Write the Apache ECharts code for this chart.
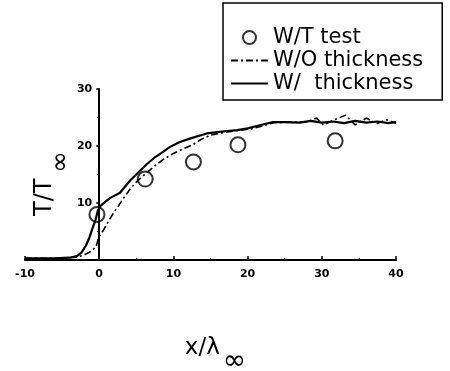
<!DOCTYPE html>
<html>
<head>
<meta charset="utf-8">
<script src="https://cdn.jsdelivr.net/npm/echarts@6/dist/echarts.min.js"></script>
<style>
html,body{margin:0;padding:0;background:#fff;}
#chart{width:450px;height:371px;}
</style>
</head>
<body>
<div id="chart"></div>
<script>
// x tick range
const xTicks = [-10, 0, 10, 20, 30, 40];
const yTicks = [0, 10, 20, 30];

// W/T test (wind tunnel) points: [x/λ∞, T/T∞]
const testData = [[-0.3, 8.0], [6.2, 14.2], [12.7, 17.2], [18.7, 20.2], [31.8, 20.9]];

// W/O thickness (dash-dot)
const noThickness = [
  [-10, 0.3], [-5, 0.3], [-3, 0.5], [-2, 0.9], [-1, 1.6], [-0.4, 2.4], [-0.1, 3.9],
  [0.6, 5.3], [1.2, 6.7], [1.9, 8.2], [2.6, 9.5], [3.2, 10.7], [4.2, 12.5], [5.1, 13.8],
  [6.4, 15.3], [7.5, 16.5], [8.6, 17.6], [10, 18.7], [11.5, 19.6], [12.7, 20.3],
  [13.8, 21.2], [15, 21.9], [16.5, 22.3], [18.5, 22.7], [20.5, 23.0], [22, 23.5],
  [23.5, 24.1], [26, 24.2], [28, 24.2], [29.3, 24.9], [30.2, 23.7], [31.5, 24.5],
  [33.2, 25.4], [34.5, 23.7], [36, 24.9], [37.4, 23.9], [38.7, 24.6], [40, 24.0]
];

// W/ thickness (solid)
const withThickness = [
  [-10, 0.3], [-6, 0.3], [-4, 0.4], [-3, 0.7], [-2.4, 1.3], [-1.8, 2.5], [-1.3, 4],
  [-0.9, 5.6], [-0.5, 7], [-0.2, 8.6], [0.1, 9.4], [0.8, 10.2], [1.5, 10.9], [2.8, 11.8],
  [4.2, 14.0], [5.3, 15.4], [6.4, 16.8], [7.4, 17.9], [8.4, 18.8], [9.5, 19.8],
  [10.7, 20.6], [12.2, 21.3], [14.5, 22.2], [16.3, 22.5], [18.6, 22.8], [20, 23.1],
  [21.5, 23.6], [23.4, 24.2], [25, 24.2], [27, 24.1], [28.5, 24.4], [30, 24.1],
  [31.5, 24.3], [33, 24.0], [34.5, 24.4], [36, 24.1], [37.5, 24.3], [39, 24.0], [40, 24.2]
];

const seriesNames = ['W/T test', 'W/O thickness', 'W/  thickness'];

const GRID = {left: 25, right: 54, top: 89, bottom: 111};
const W = 450;
const xMin = xTicks[0], xMax = xTicks[xTicks.length - 1];
// y axis sits at x = 0: shift it inward from the grid's left edge
const yAxisOffset = -((0 - xMin) / (xMax - xMin)) * (W - GRID.left - GRID.right);

const chart = echarts.init(document.getElementById('chart'), null, {renderer: 'canvas'});
const FONT = 'DejaVu Sans';
chart.setOption({
  animation: false,
  backgroundColor: '#fff',
  grid: Object.assign({containLabel: false, outerBoundsMode: 'none'}, GRID),
  legend: {
    orient: 'vertical',
    left: 223, top: 3,
    padding: [23, 19, 5, 7],
    itemGap: 0,
    itemWidth: 37, itemHeight: 13,
    borderColor: '#000', borderWidth: 1.5,
    textStyle: {fontFamily: FONT, fontSize: 21, color: '#000', lineHeight: 23},
    data: [
      {name: seriesNames[0]},
      {name: seriesNames[1], itemStyle: {opacity: 0}},
      {name: seriesNames[2], itemStyle: {opacity: 0}}
    ]
  },
  xAxis: {
    type: 'value', min: xMin, max: xMax, interval: 10,
    name: '{a|x/λ}{s|∞}', nameLocation: 'middle', nameGap: 77, nameMoveOverlap: false,
    nameTextStyle: {fontFamily: FONT, fontSize: 23, color: '#000', padding: [0, 0, 0, 10],
      rich: {
        a: {fontFamily: FONT, fontSize: 23, color: '#000', verticalAlign: 'top'},
        s: {fontFamily: FONT, fontSize: 28, color: '#000', verticalAlign: 'top', padding: [11, 0, 0, 3]}
      }},
    axisLine: {onZero: false, lineStyle: {color: '#000', width: 2}},
    axisTick: {inside: true, length: 4, lineStyle: {color: '#000', width: 1.5}},
    minorTick: {show: true, splitNumber: 2, length: 2, lineStyle: {color: '#000'}},
    axisLabel: {fontFamily: FONT, fontWeight: 'bold', fontSize: 11, color: '#000', margin: 9},
    splitLine: {show: false}
  },
  yAxis: {
    type: 'value', min: yTicks[0], max: yTicks[yTicks.length - 1], interval: 10,
    position: 'left', offset: yAxisOffset,
    name: '{a|T/T}{s|∞}', nameLocation: 'middle', nameGap: 25, nameRotate: 90, nameMoveOverlap: false,
    nameTextStyle: {fontFamily: FONT, fontSize: 24, color: '#000', padding: [0, 18, 0, 0],
      rich: {
        a: {fontFamily: FONT, fontSize: 24, color: '#000', verticalAlign: 'top'},
        s: {fontFamily: FONT, fontSize: 26, color: '#000', verticalAlign: 'top', padding: [15, 0, 0, 6]}
      }},
    axisLine: {onZero: false, lineStyle: {color: '#000', width: 2}},
    axisTick: {inside: false, length: 3, lineStyle: {color: '#000', width: 1.5}},
    minorTick: {show: true, splitNumber: 2, length: 2, lineStyle: {color: '#000'}},
    axisLabel: {fontFamily: FONT, fontWeight: 'bold', fontSize: 11, color: '#000', margin: 7, showMinLabel: false},
    splitLine: {show: false}
  },
  series: [
    {
      name: seriesNames[0], type: 'scatter', data: testData,
      symbol: 'circle', symbolSize: 15,
      itemStyle: {color: 'rgba(255,255,255,0)', borderColor: '#000', borderWidth: 2},
      z: 5
    },
    {
      name: seriesNames[1], type: 'line', data: noThickness, symbol: 'none',
      lineStyle: {color: '#000', width: 1.6, type: [7, 3, 2, 3]},
      itemStyle: {color: '#000'}
    },
    {
      name: seriesNames[2], type: 'line', data: withThickness, symbol: 'none',
      lineStyle: {color: '#000', width: 2.2},
      itemStyle: {color: '#000'}
    }
  ]
});
</script>
</body>
</html>
